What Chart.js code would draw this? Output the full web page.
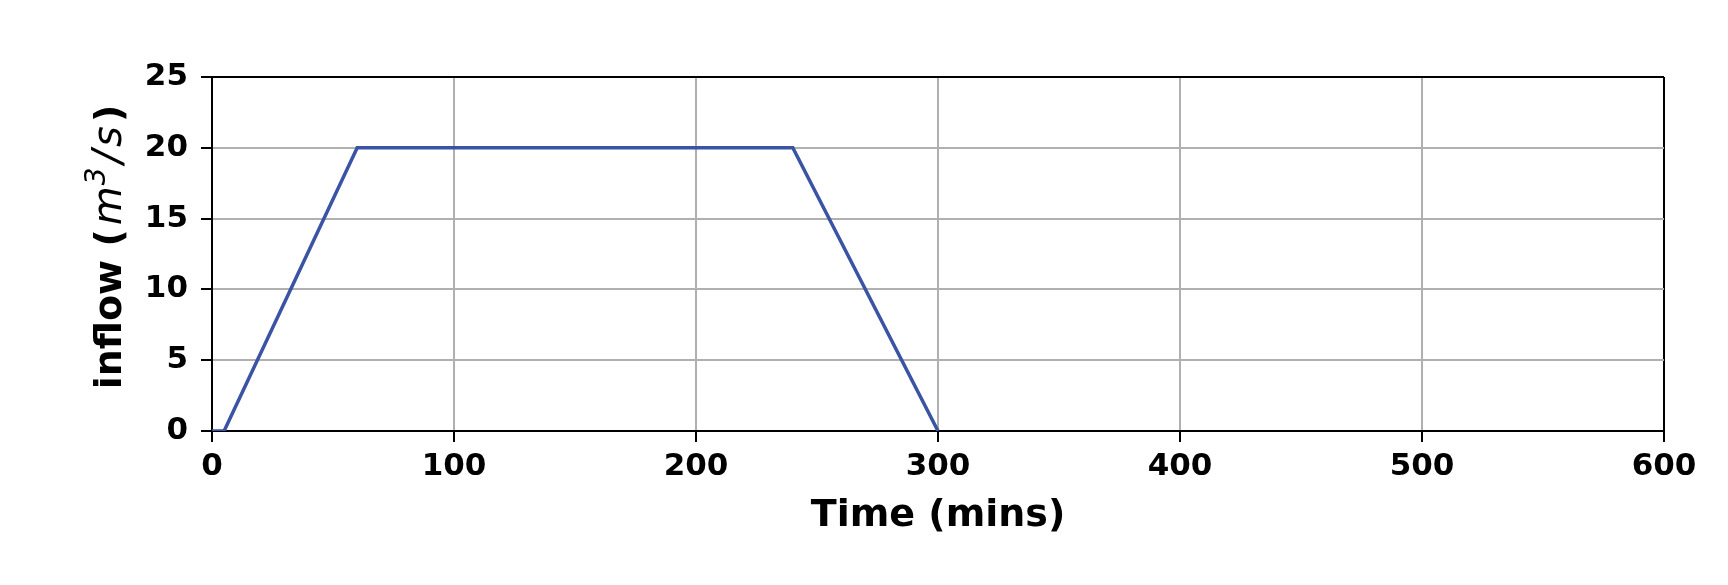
<!DOCTYPE html>
<html>
<head>
<meta charset="utf-8">
<script src="https://cdn.jsdelivr.net/npm/chart.js@4/dist/chart.umd.min.js"></script>
<style>
    html, body { margin: 0; padding: 0; background: #fff; }
    #wrap { width: 1728px; height: 585px; }
</style>
</head>
<body>
<div id="wrap"><canvas id="inflowChart" width="1728" height="585"></canvas></div>
<script>
// Hydrograph values
const timeMins = [0, 5, 60, 240, 300];
const inflow = [0, 0, 20, 20, 0];
const xTicks = [0, 100, 200, 300, 400, 500, 600];
const yTicks = [0, 5, 10, 15, 20, 25];

const FONT = "'DejaVu Sans', sans-serif";
const GRID = '#b0b0b0';

// y axis title has mixed bold / math italic parts, so draw it by hand
const yTitlePlugin = {
    id: 'yTitle',
    afterDraw(chart) {
        const ctx = chart.ctx;
        const area = chart.chartArea;
        const parts = [
            { text: 'inflow (', font: `bold 38px ${FONT}`, dy: 0, gap: 4 },
            { text: 'm', font: `italic 40px ${FONT}`, dy: 0, gap: 1 },
            { text: '3', font: `italic 28px ${FONT}`, dy: -16, gap: 4 },
            { text: '/', font: `italic 40px ${FONT}`, dy: 0, gap: 3 },
            { text: 's', font: `italic 40px ${FONT}`, dy: 0, gap: 4 },
            { text: ')', font: `bold 38px ${FONT}`, dy: 0, gap: 0 }
        ];
        ctx.save();
        let total = 0;
        parts.forEach(p => {
            ctx.font = p.font;
            p.w = ctx.measureText(p.text).width;
            total += p.w + p.gap;
        });
        ctx.translate(121, (area.top + area.bottom) / 2 - 7);
        ctx.rotate(-Math.PI / 2);
        ctx.fillStyle = '#000';
        ctx.textBaseline = 'alphabetic';
        ctx.textAlign = 'left';
        let x = -total / 2;
        parts.forEach(p => {
            ctx.font = p.font;
            ctx.fillText(p.text, x, p.dy);
            x += p.w + p.gap;
        });
        ctx.restore();
    }
};

const ctx = document.getElementById('inflowChart').getContext('2d');

new Chart(ctx, {
    type: 'line',
    data: {
        datasets: [{
            data: timeMins.map((t, i) => ({ x: t, y: inflow[i] })),
            borderColor: '#3a53a4',
            borderWidth: 3.5,
            pointRadius: 0,
            tension: 0,
            fill: false
        }]
    },
    options: {
        responsive: false,
        animation: false,
        layout: { padding: { left: 0, right: 64, top: 77, bottom: 0 } },
        plugins: {
            legend: { display: false },
            tooltip: { enabled: false }
        },
        scales: {
            x: {
                type: 'linear',
                min: 0,
                max: 600,
                afterBuildTicks: s => { s.ticks = xTicks.map(v => ({ value: v })); },
                afterFit: s => { s.height = 154; },
                ticks: {
                    color: '#000',
                    padding: 6,
                    font: { family: FONT, size: 31, weight: 'bold' }
                },
                grid: {
                    color: c => c.tick && c.tick.value === 600 ? '#000' : GRID,
                    lineWidth: 2,
                    tickLength: 11,
                    tickColor: '#000',
                    tickWidth: 2
                },
                border: { color: '#000', width: 2 },
                title: {
                    display: true,
                    text: 'Time (mins)',
                    color: '#000',
                    padding: { top: 0, bottom: 46 },
                    font: { family: FONT, size: 38, weight: 'bold' }
                }
            },
            y: {
                min: 0,
                max: 25,
                afterBuildTicks: s => { s.ticks = yTicks.map(v => ({ value: v })); },
                afterFit: s => { s.width = 212; },
                ticks: {
                    color: '#000',
                    padding: 13,
                    font: { family: FONT, size: 31, weight: 'bold' }
                },
                grid: {
                    color: c => c.tick && c.tick.value === 25 ? '#000' : GRID,
                    lineWidth: 2,
                    tickLength: 11,
                    tickColor: '#000',
                    tickWidth: 2
                },
                border: { color: '#000', width: 2 }
            }
        }
    },
    plugins: [yTitlePlugin]
});
</script>
</body>
</html>
